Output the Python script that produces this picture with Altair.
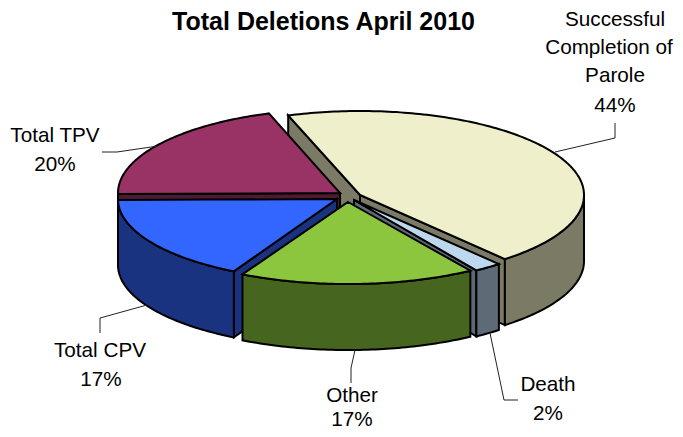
import math
import altair as alt

# Chart values
categories = ["Successful Completion of Parole", "Total TPV", "Total CPV", "Death", "Other"]
shares = [44, 20, 17, 2, 17]
first_angle = -18.7

# Slice order round the pie (clockwise from the first angle)
clockwise = ["Successful Completion of Parole", "Death", "Other", "Total CPV", "Total TPV"]
# Drawing order back to front is the order of `categories`

top_colors = ["#EFEFCB", "#993366", "#3366FF", "#BDD7EE", "#8CC63F"]
side_colors = ["#7B7B65", "#4D1A33", "#1A3380", "#5E6B77", "#46651F"]
apex_x = [360, 340, 337, 354, 348]
apex_y = [195, 193, 199, 200, 202]
radius_x = [224, 222, 219, 224, 224]
radius_y = [84, 84, 82, 84, 82]
depth = 66

label_lines = [
    ("Successful", 615, 20), ("Completion of", 609, 48), ("Parole", 615, 76), ("44%", 615, 106),
    ("Total TPV", 55, 136), ("20%", 55, 165),
    ("Total CPV", 100, 351), ("17%", 101, 380),
    ("Other", 352, 396), ("17%", 352, 420),
    ("Death", 548, 385), ("2%", 548, 414),
]
leaders = [
    [(555, 152), (615, 138), (615, 123)],
    [(158, 146), (117, 152), (102, 152)],
    [(147, 305), (100, 318), (100, 333)],
    [(355, 350), (351, 368), (351, 383)],
    [(490, 333), (504, 400), (518, 400)],
]

TOP = 35
OX, OY = 8, 8 + TOP
W, H = 667, 421 - TOP


def px(p):
    return [p[0] - OX, p[1] - OY]


start_of = {}
a = first_angle
for name in clockwise:
    s = shares[categories.index(name)]
    start_of[name] = (a, a + s * 3.6)
    a += s * 3.6

features = []


def add(points, fill):
    ring = [px(p) for p in points]
    ring.append(ring[0])
    features.append({"type": "Feature", "properties": {"fill": fill},
                     "geometry": {"type": "Polygon", "coordinates": [ring]}})


for i, name in enumerate(categories):
    t0, t1 = start_of[name]
    cx, cy, rx, ry = apex_x[i], apex_y[i], radius_x[i], radius_y[i]

    def rim(t):
        r = math.radians(t)
        return (cx + rx * math.sin(r), cy - ry * math.cos(r))

    def arc(a0, a1):
        n = max(2, int(abs(a1 - a0)) + 1)
        return [rim(a0 + (a1 - a0) * k / (n - 1)) for k in range(n)]

    for t, visible in ((t0, math.sin(math.radians(t0)) < 0), (t1, math.sin(math.radians(t1)) > 0)):
        if visible:
            p = rim(t)
            add([(cx, cy), p, (p[0], p[1] + depth), (cx, cy + depth)], side_colors[i])
    w0, w1 = max(t0, 90), min(t1, 270)
    if w1 > w0:
        top_arc = arc(w0, w1)
        add(top_arc + [(x, y + depth) for x, y in reversed(top_arc)], side_colors[i])
    add([(cx, cy)] + arc(t0, t1), top_colors[i])

pie = (
    alt.Chart(alt.Data(values=features))
    .mark_geoshape(stroke="#000000", strokeWidth=2, strokeJoin="miter")
    .encode(fill=alt.Fill("properties.fill:N", scale=None))
    .project(type="identity", scale=1, translate=[0, 0])
)

leader_rows = []
for k, line in enumerate(leaders):
    for j, p in enumerate(line):
        x, y = px(p)
        leader_rows.append({"k": k, "j": j, "x": x, "y": y})

leader_chart = (
    alt.Chart(alt.Data(values=leader_rows))
    .mark_line(color="#222222", strokeWidth=1)
    .encode(
        x=alt.X("x:Q", scale=None, axis=None),
        y=alt.Y("y:Q", scale=None, axis=None),
        detail="k:N",
        order="j:Q",
    )
)

label_rows = [{"t": t, "x": px((x, y))[0], "y": px((x, y))[1]} for t, x, y in label_lines]
labels = (
    alt.Chart(alt.Data(values=label_rows))
    .mark_text(font="Liberation Sans", fontSize=20.7, color="#000000", align="center", baseline="middle")
    .encode(
        x=alt.X("x:Q", scale=None, axis=None),
        y=alt.Y("y:Q", scale=None, axis=None),
        text="t:N",
    )
)

chart = (
    alt.layer(pie, leader_chart, labels)
    .properties(
        width=W,
        height=H,
        padding={"left": 0, "right": 0, "top": TOP, "bottom": 0},
        autosize=alt.AutoSizeParams(type="none"),
        title=alt.TitleParams(
            "Total Deletions April 2010",
            font="Liberation Sans", fontSize=25, fontWeight="bold", color="#000000",
            anchor="middle", frame="group", dx=-18, offset=-26,
        ),
    )
    .configure_view(stroke=None)
)

chart.save("out.html", embed_options={"renderer": "svg", "actions": False})
